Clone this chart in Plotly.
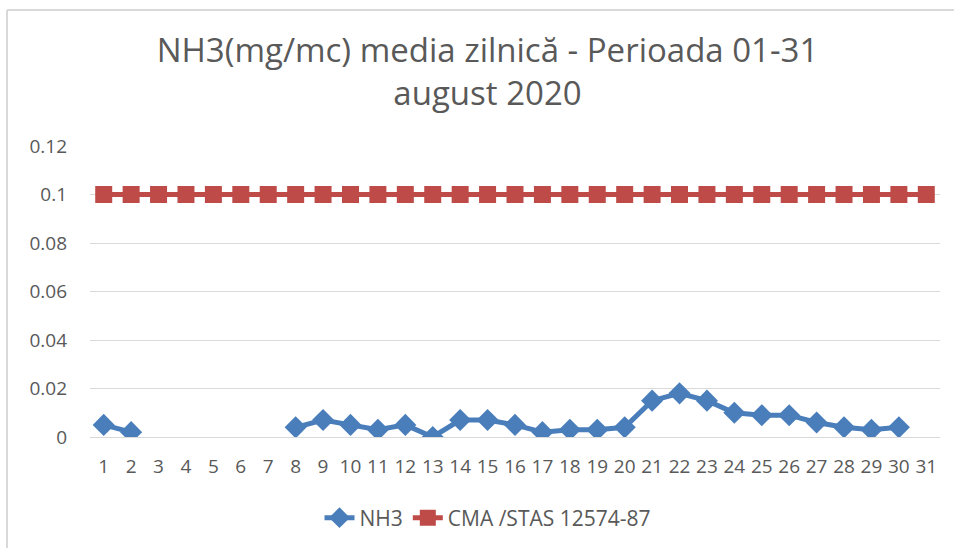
import plotly.graph_objects as go

days = [str(d) for d in range(1, 32)]
nh3 = [0.005, 0.002, None, None, None, None, None, 0.004, 0.007, 0.005,
       0.003, 0.005, 0.0, 0.007, 0.007, 0.005, 0.002, 0.003, 0.003, 0.004,
       0.015, 0.018, 0.015, 0.010, 0.009, 0.009, 0.006, 0.004, 0.003, 0.004, None]
cma = [0.1] * 31
y_ticks = [0, 0.02, 0.04, 0.06, 0.08, 0.1, 0.12]

FONT = "Open Sans"
GRAY = "#595959"

fig = go.Figure()
fig.add_trace(go.Scatter(
    x=days, y=nh3, name="NH3", mode="lines+markers",
    line=dict(color="#4A7EBB", width=5),
    marker=dict(symbol="diamond", size=17, color="#4A7EBB"),
    connectgaps=False,
))
fig.add_trace(go.Scatter(
    x=days, y=cma, name="CMA /STAS 12574-87", mode="lines+markers",
    line=dict(color="#BE4B48", width=5),
    marker=dict(symbol="square", size=17, color="#BE4B48"),
))

L, R, T, B = 90, 14, 146, 111
W, H = 954, 548
pw, ph = W - L - R, H - T - B

def px(x):
    return (x - L) / pw

def py(y):
    return (H - B - y) / ph

fig.update_layout(
    width=W, height=H,
    margin=dict(l=L, r=R, t=T, b=B, autoexpand=False),
    paper_bgcolor="white", plot_bgcolor="white",
    font=dict(family=FONT, color=GRAY, size=19),
    title=dict(text="NH3(mg/mc) media zilnică - Perioada 01-31<br>august 2020",
               x=487.5 / W, xanchor="center", y=1 - 62 / H, yanchor="middle",
               font=dict(family=FONT, size=33, color=GRAY)),
    showlegend=True,
    legend=dict(orientation="h", x=px(488), xanchor="center", y=py(518), yanchor="middle",
                font=dict(family=FONT, size=21, color=GRAY)),
    xaxis=dict(type="category", range=[-0.5, 30.5], showgrid=False, showline=True,
               linecolor="#D9D9D9", linewidth=1, ticks="", ticklabelstandoff=12,
               zeroline=False, tickfont=dict(size=19, color=GRAY)),
    yaxis=dict(range=[0, 0.12], tickvals=y_ticks, ticktext=[f"{v:g}" for v in y_ticks],
               showgrid=True, gridcolor="#D9D9D9", gridwidth=1, zeroline=False,
               ticks="", ticklabelstandoff=22, showline=False,
               tickfont=dict(size=19, color=GRAY)),
    shapes=[
        dict(type="line", xref="paper", yref="paper", x0=px(7), x1=px(7),
             y0=py(10), y1=py(560), line=dict(color="#D9D9D9", width=2)),
        dict(type="line", xref="paper", yref="paper", x0=px(7), x1=px(960),
             y0=py(10), y1=py(10), line=dict(color="#D9D9D9", width=2)),
    ],
)

fig.write_html("out.html", config={"displayModeBar": False},
               post_script="document.body.style.margin='0';")
